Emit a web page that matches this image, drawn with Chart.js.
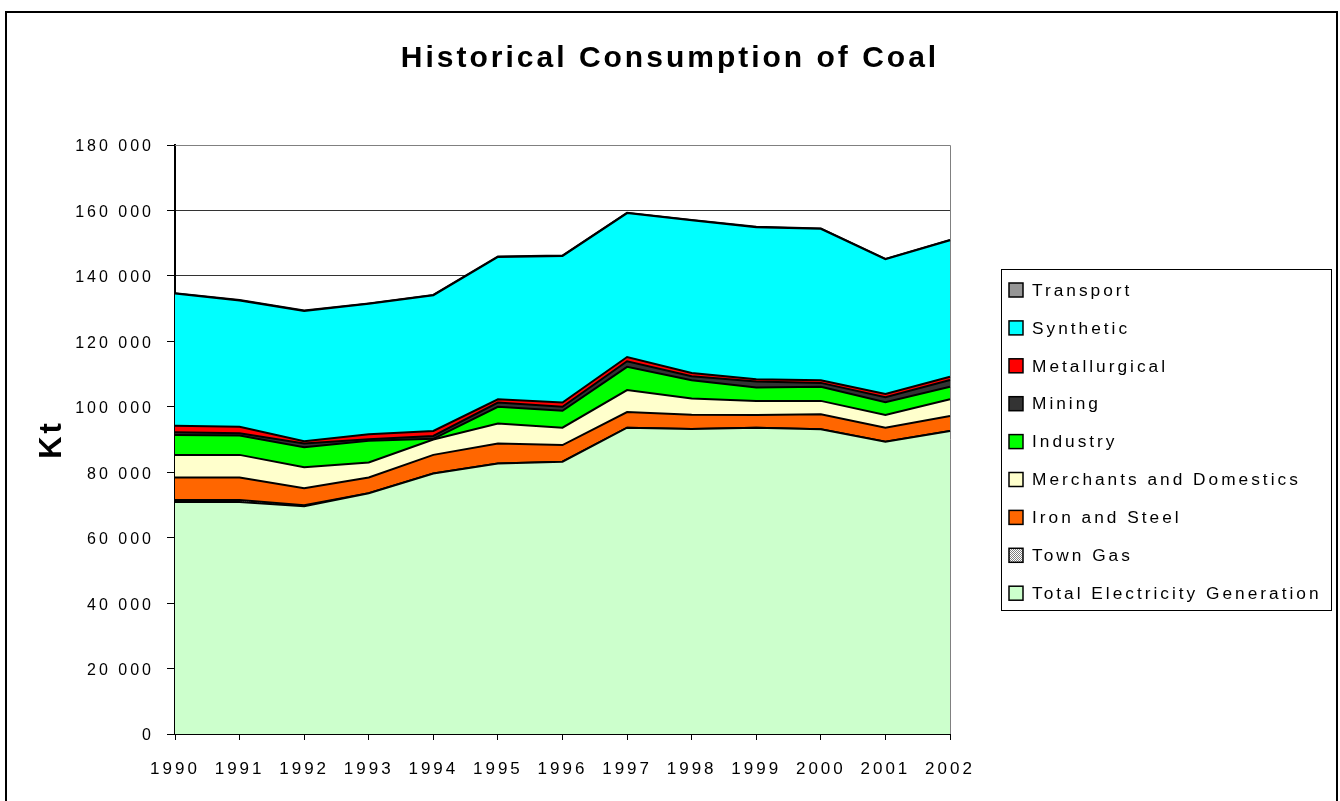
<!DOCTYPE html>
<html>
<head>
<meta charset="utf-8">
<script src="https://cdn.jsdelivr.net/npm/chart.js@4.4.1/dist/chart.umd.min.js"></script>
<style>
  html, body { margin: 0; padding: 0; background: #fff; }
  #wrap { width: 1340px; height: 801px; }
</style>
</head>
<body>
<div id="wrap"><canvas id="c" width="1340" height="801"></canvas></div>
<script>
// ---------------- data (kt) ----------------
const years = ['1990','1991','1992','1993','1994','1995','1996','1997','1998','1999','2000','2001','2002'];
const electricity   = [70900, 70900, 69600, 73600, 79600, 82700, 83200, 93600, 93200, 93600, 93100, 89300, 92600];
const townGas       = [600, 600, 300, 0, 0, 0, 0, 0, 0, 0, 0, 0, 0];
const ironSteel     = [6900, 6900, 5200, 4800, 5700, 6100, 5100, 4800, 4400, 3900, 4600, 4300, 4600];
const merchants     = [6900, 6900, 6400, 4600, 4700, 6100, 5300, 6700, 4900, 4300, 4100, 3900, 5100];
const industry      = [6100, 5900, 6100, 6600, 200, 5100, 5200, 7100, 5600, 4100, 4300, 3900, 3800];
const mining        = [800, 700, 1200, 500, 900, 1300, 1200, 1700, 1200, 1800, 1200, 1500, 2100];
const metallurgical = [2000, 2000, 700, 1500, 1500, 1000, 1300, 1300, 1000, 700, 800, 1000, 1000];
const synthetic     = [40400, 38600, 39800, 39900, 41500, 43500, 44800, 44000, 46700, 46500, 46300, 41200, 41700];
const transport     = [100, 100, 100, 100, 100, 100, 100, 100, 100, 100, 100, 100, 100];

const seriesNames = ['Total Electricity Generation','Town Gas','Iron and Steel','Merchants and Domestics',
                     'Industry','Mining','Metallurgical','Synthetic','Transport'];
const seriesValues = [electricity, townGas, ironSteel, merchants, industry, mining, metallurgical, synthetic, transport];
const yMin = 0, yMax = 180000, yStep = 20000;
const titleText = 'Historical Consumption of Coal';
const yTitleText = 'Kt';

// ---------------- fonts ----------------
const FAMILY = '"Liberation Sans", Arial, sans-serif';
const LS = '3px';

// ---------------- styling ----------------
function makePattern() {
  const p = document.createElement('canvas');
  p.width = 4; p.height = 4;
  const g = p.getContext('2d');
  g.fillStyle = '#ffffff'; g.fillRect(0, 0, 4, 4);
  g.fillStyle = '#7f7f7f';
  g.fillRect(0, 0, 1, 1); g.fillRect(2, 0, 1, 1); g.fillRect(1, 1, 1, 1); g.fillRect(3, 1, 1, 1);
  g.fillRect(0, 2, 1, 1); g.fillRect(2, 2, 1, 1); g.fillRect(1, 3, 1, 1); g.fillRect(3, 3, 1, 1);
  return document.getElementById('c').getContext('2d').createPattern(p, 'repeat');
}
const fills = ['#CCFFCC', makePattern(), '#FF6600', '#FFFFCC', '#00FF00', '#333333', '#FF0000', '#00FFFF', '#969696'];

const datasets = seriesNames.map((name, i) => ({
  label: name,
  data: seriesValues[i],
  backgroundColor: fills[i],
  borderColor: '#000000',
  borderWidth: 2,
  pointRadius: 0,
  pointHoverRadius: 0,
  tension: 0,
  yAxisID: 'y',
  fill: i === 0 ? 'origin' : '-1'
}));

function fmt(v) { return String(v).replace(/\B(?=(\d{3})+(?!\d))/g, ' '); }

// ---------------- plugins ----------------
const spacingPlugin = {
  id: 'letterSpacing',
  beforeInit(chart) { chart.ctx.letterSpacing = LS; },
  beforeUpdate(chart) { chart.ctx.letterSpacing = LS; },
  beforeLayout(chart) { chart.ctx.letterSpacing = LS; },
  beforeDraw(chart) {
    const ctx = chart.ctx;
    ctx.letterSpacing = LS;
    ctx.save();
    ctx.strokeStyle = '#000';
    ctx.lineWidth = 2;
    ctx.strokeRect(6, 12, 1331, 900);
    ctx.restore();
  }
};

const plotFramePlugin = {
  id: 'plotFrame',
  beforeDatasetsDraw(chart) {
    const {ctx, chartArea: a} = chart;
    ctx.save();
    ctx.strokeStyle = '#808080';
    ctx.lineWidth = 1;
    ctx.beginPath();
    ctx.moveTo(a.left, a.top + 0.5); ctx.lineTo(a.right + 0.5, a.top + 0.5); ctx.lineTo(a.right + 0.5, a.bottom);
    ctx.stroke();
    ctx.restore();
  }
};

const boxLegendPlugin = {
  id: 'boxLegend',
  afterDraw(chart) {
    const ctx = chart.ctx;
    const a = chart.chartArea;
    const left = a.right + 51, top = 269, w = 330, h = 341;
    const n = chart.data.datasets.length;
    const step = 37.9;
    const firstY = 290;
    ctx.save();
    ctx.letterSpacing = LS;
    ctx.strokeStyle = '#000';
    ctx.lineWidth = 1;
    ctx.strokeRect(left + 0.5, top + 0.5, w, h);
    ctx.font = '17.3px ' + FAMILY;
    ctx.textBaseline = 'middle';
    ctx.textAlign = 'left';
    for (let j = 0; j < n; j++) {
      const ds = chart.data.datasets[n - 1 - j];
      const y = firstY + j * step;
      ctx.fillStyle = ds.backgroundColor;
      ctx.fillRect(left + 8, y - 7, 14, 14);
      ctx.lineWidth = 1.5;
      ctx.strokeStyle = '#000';
      ctx.strokeRect(left + 8, y - 7, 14, 14);
      ctx.fillStyle = '#000';
      ctx.fillText(ds.label, left + 31, y + 1);
    }
    ctx.restore();
  }
};

// ---------------- chart ----------------
const titleSize = 30;
const titleLH = Math.round(titleSize * 1.2);
const titleCenterY = 59;

new Chart(document.getElementById('c'), {
  type: 'line',
  data: { labels: years, datasets: datasets },
  plugins: [spacingPlugin, plotFramePlugin, boxLegendPlugin],
  options: {
    responsive: false,
    animation: false,
    events: [],
    layout: { padding: 0 },
    plugins: {
      legend: { display: false },
      tooltip: { enabled: false },
      title: {
        display: true,
        text: titleText,
        color: '#000',
        font: { family: FAMILY, size: titleSize, weight: 'bold', lineHeight: 1.2 },
        padding: { top: titleCenterY - titleLH / 2, bottom: 145 - (titleCenterY - titleLH / 2) - titleLH }
      }
    },
    scales: {
      x: {
        type: 'category',
        offset: false,
        grid: { display: true, drawOnChartArea: false, drawTicks: true, tickLength: 6, tickColor: '#000', offset: false },
        border: { display: true, color: '#000', width: 2 },
        ticks: {
          color: '#000', padding: 19, maxRotation: 0, autoSkip: false,
          font: { family: FAMILY, size: 17 }
        },
        afterFit(s) { s.height = 67; }
      },
      y: {
        stacked: true,
        min: yMin, max: yMax,
        grid: {
          color: (c) => (c.tick && c.tick.value === yMax) ? '#808080' : '#333333',
          lineWidth: 1,
          tickLength: 8,
          tickColor: '#000'
        },
        border: { display: true, color: '#000', width: 2 },
        ticks: {
          stepSize: yStep, color: '#000', padding: 13, labelOffset: 2,
          font: { family: FAMILY, size: 16 },
          callback: (v) => fmt(v)
        },
        title: {
          display: true, text: yTitleText, color: '#000',
          font: { family: FAMILY, size: 31, weight: 'bold', lineHeight: 1.2 },
          padding: { top: 52 - 31 * 0.6, bottom: 0 }
        },
        afterFit(s) { s.width = 175; }
      },
      // empty right-hand axis that only reserves the room used by the legend box
      yRoom: {
        type: 'linear',
        position: 'right',
        display: true,
        grid: { display: false },
        border: { display: false },
        ticks: { display: false },
        afterFit(s) { s.width = 390; }
      }
    }
  }
});
</script>
</body>
</html>
